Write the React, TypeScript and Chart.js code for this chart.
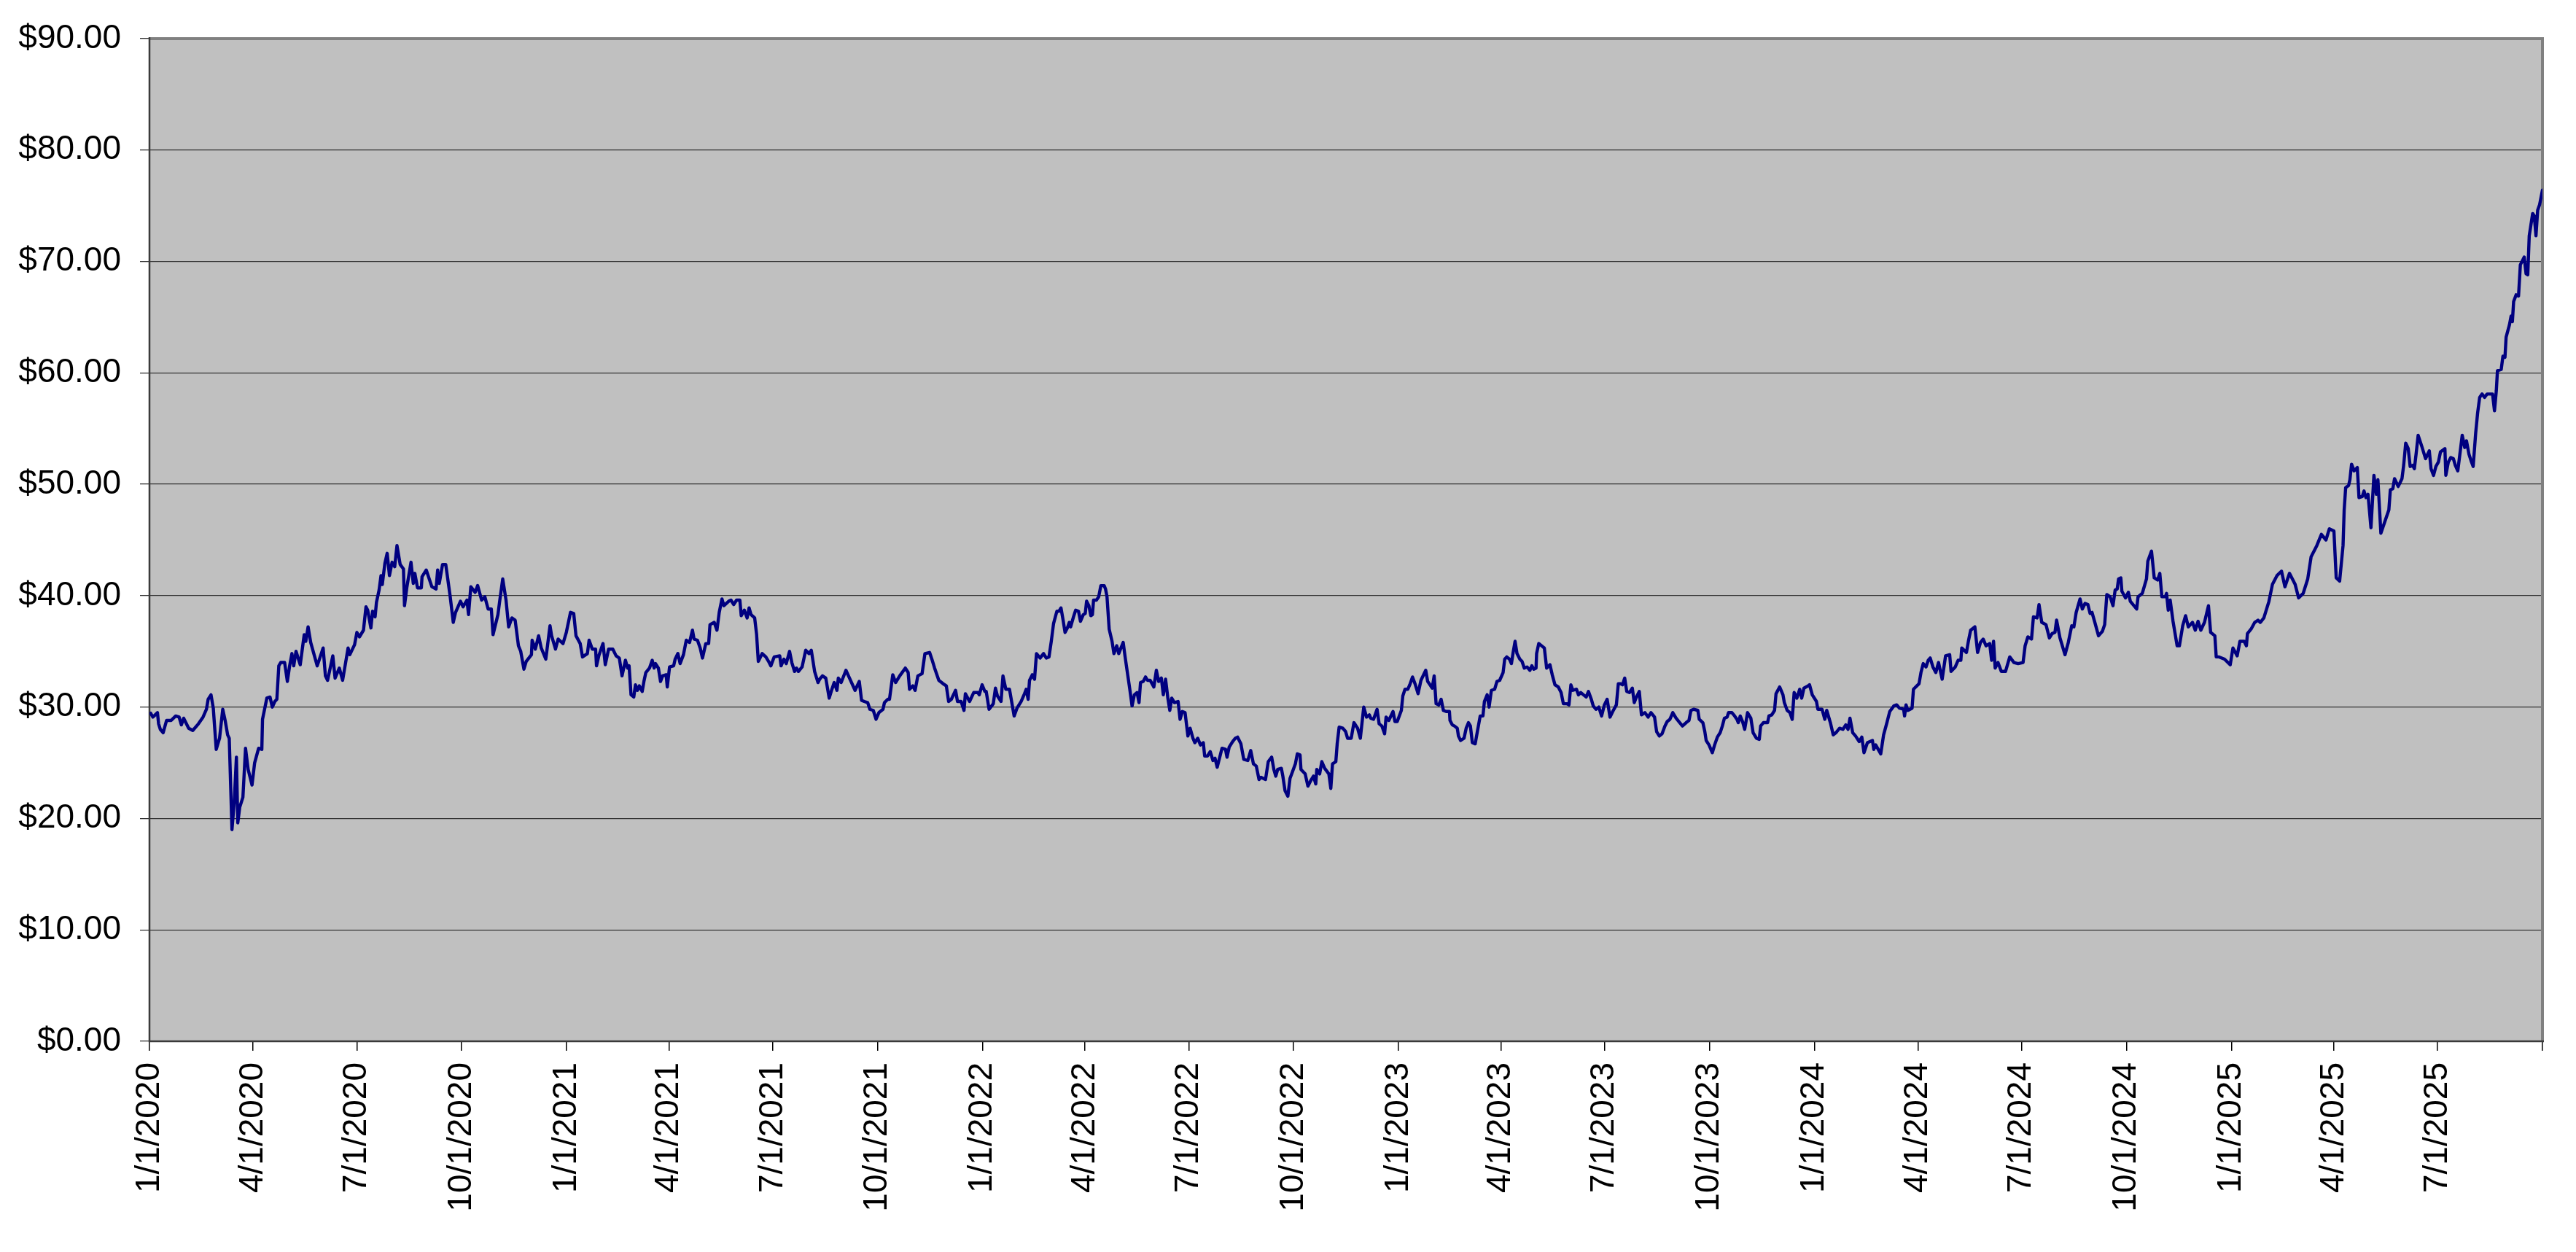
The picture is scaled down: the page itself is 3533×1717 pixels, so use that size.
import React, { useEffect, useRef } from 'react';
import { Chart, registerables } from 'chart.js';

Chart.register(...registerables);

// ---- Axis tick labels ----
const quarterLabels: string[] = [
  '1/1/2020', '4/1/2020', '7/1/2020', '10/1/2020',
  '1/1/2021', '4/1/2021', '7/1/2021', '10/1/2021',
  '1/1/2022', '4/1/2022', '7/1/2022', '10/1/2022',
  '1/1/2023', '4/1/2023', '7/1/2023', '10/1/2023',
  '1/1/2024', '4/1/2024', '7/1/2024', '10/1/2024',
  '1/1/2025', '4/1/2025', '7/1/2025',
];
const axisStartDate = '1/1/2020';
const axisEndDate = '10/1/2025';
const yTickValues: number[] = [0, 10, 20, 30, 40, 50, 60, 70, 80, 90];

// ---- Series: days since 1/1/2020 and closing price ($) ----
const tradingDay: number[] = [
  // 2020 - early 2021
  1, 3, 7, 8, 9.5, 12, 15, 19, 23, 26,
  28, 30, 34.4, 38, 43, 47, 50, 51.5, 54, 56,
  58.6, 61.5, 64.3, 66.6, 68.6, 70, 72.4, 74.4, 76.3, 77.5,
  79.2, 82, 84.3, 86.6, 90, 92.3, 95.8, 98.6, 99.2, 103,
  105.8, 107.8, 110, 111.8, 113.5, 115.2, 118.6, 121, 123, 125,
  126.6, 128.6, 132.3, 135.8, 137.2, 139.2, 141.5, 147.2, 152.4, 154.4,
  156.3, 160.9, 162.9, 166.6, 169.5, 174.3, 175.8, 180, 182, 184.3,
  187.8, 190, 191.5, 194.3, 195.8, 198, 199.2, 201.5, 203.2, 204.3,
  206.6, 208.6, 210.6, 212.9, 215.2, 217.2, 220, 222.9, 223.8, 225.8,
  229.5, 231.5, 232.9, 235.2, 238.6, 239.2, 242.9, 247.8, 251.5, 252.9,
  254.3, 257.2, 260, 263.8, 266.6, 268.6, 272.9, 275.2, 278.6, 280,
  282, 285.8, 288, 291.5, 294.3, 297.2, 300, 301.5, 305.8, 307.2,
  310, 312.9, 315.2, 318, 320.9, 323.8, 325.8, 328.6, 330.6, 335.2,
  335.8, 338.6, 341.5, 343.8, 347.8, 351.5, 352.9, 356.3, 358.6, 362.9,
  365.8, 369.5, 372.3, 374.3, 378, 380, 384.3, 385.8, 388.6, 391.5,
  392.3, 394.3, 398, 400, 402.9, 406.6, 409.5,
  // 2021
  412.3, 414.7, 417.7, 419.6, 420.9, 422.6, 425, 426.5, 428.2, 429.9,
  432.4, 433.9, 435.6, 438.8, 441.2, 442.9, 444.1, 446.6, 448.5, 450.3,
  453.4, 454.4, 456.4, 460, 461.3, 463.7, 465.7, 468.6, 471.1, 474,
  476.5, 477.9, 480.9, 483.3, 485.3, 488.2, 490.7, 491.9, 495.6, 498,
  500, 502.4, 504.1, 508.3, 510.3, 512.7, 515.2, 518.1, 519.3, 522,
  524.5, 526.2, 527.9, 531.1, 532.8, 534.3, 537.7, 540.9, 543.3, 545.3,
  548.2, 553.1, 554.3, 556.8, 558.8, 561.7, 563.7, 566.1, 567.8, 569.5,
  572.7, 575.9, 578.8, 580.8, 583.7, 586.7, 588.1, 590.6, 593.5, 596.5,
  598.9, 600.9, 603.3, 604.5, 607, 611.2, 614.3, 619.2, 622.9, 624.9,
  627.3, 630.3, 632.2, 635.2, 637.6, 640.1, 643.7, 645, 647.9, 649.4,
  652.3, 654.8, 658.4, 663.3, 665.8, 667, 669.9, 671.9, 674.3, 678,
  680.5, 684.6, 686.6, 689, 692.7, 696.4, 699.3, 701.3, 703.7, 707.4,
  709.1, 712.3, 714.8, 716, 719.7, 723.3, 727, 728.2, 730.7, 733.1,
  734.3, 736.8, 740.5, 742.4, 744.1, 747.3, 749, 751.5, 754.7, 758.8,
  761.3, 764.9, 767.9, 769.4, 771.1, 772.3, 774.8, 776.7, 778.4, 781.6,
  784.6, 787, 789.4, 791.4, 793.4, 796.3,
  // 2022
  798.1, 799.9, 801.6, 803.5, 805.5, 807.2, 808.4, 810.9, 812.8, 815.3,
  817, 819.5, 821.2, 822.4, 824.4, 826.1, 827.5, 828.5, 831, 833,
  834.9, 837.8, 839, 840.3, 842.2, 844.7, 846.4, 848.8, 850.6, 852.5,
  854.5, 856.2, 858.6, 860.3, 862.3, 864.3, 866.7, 868.4, 869.7, 872.1,
  874.1, 875.8, 878.2, 881.4, 883.6, 885.6, 888, 889.7, 891.7, 893.7,
  895.4, 897.1, 899.5, 902.7, 904.4, 906.4, 908.8, 911.3, 913.2, 915.7,
  917.4, 919.9, 922.3, 924.8, 926, 928.4, 930.9, 933.3, 935.1, 937,
  941.2, 944.3, 945.6, 947.5, 950.5, 952.9, 954.9, 957.8, 960.3, 963.9,
  966.4, 968.8, 971.3, 973.7, 975.4, 977.4, 979.4, 981.8, 984.8, 986.7,
  988.4, 990.1, 993.3, 994.6, 996.5, 999, 1000.9, 1003.1, 1005.6, 1007.3,
  1009.7, 1010.5, 1014.2, 1016.6, 1019.1, 1021.5, 1023.5, 1024.4, 1026.9, 1028.8,
  1031.3, 1035, 1036.7, 1038.2, 1041.1, 1042.3, 1044, 1047.2, 1049.7, 1051.4,
  1054.6, 1057, 1060.2, 1062.6, 1065.6, 1068, 1070.5, 1071.7, 1074.2, 1077.3,
  1079.1, 1081.5, 1083.9, 1085.2, 1087.6, 1091.3, 1093, 1095, 1098.6, 1099.9,
  1101.8, 1104.3, 1106, 1108.4, 1110.9, 1113.3, 1115.8,
  // 2023
  1120, 1121.7, 1123.7, 1125.7, 1127.4, 1129.1, 1131.5, 1133.5, 1135.5, 1137.9,
  1140.8, 1141.3, 1143.3, 1145.2, 1147.7, 1148.7, 1150.6, 1153.6, 1155.5, 1157.5,
  1159.2, 1160.9, 1163.4, 1165.3, 1167.8, 1170.2, 1171.5, 1173.9, 1175.6, 1177.6,
  1180.5, 1182.5, 1184.9, 1187.9, 1189.3, 1191.1, 1193.5, 1195.2, 1196.7, 1198.4,
  1200.1, 1202.6, 1204.5, 1206.5, 1208.9, 1211.4, 1213.1, 1214.8, 1216.8, 1217.3,
  1219.2, 1221.7, 1224.1, 1226.1, 1229, 1231, 1233.4, 1236.4, 1238.8, 1240.8,
  1243.7, 1245.7, 1247.4, 1249.1, 1252.3, 1254, 1256, 1258.4, 1260.8, 1262.8,
  1265.3, 1267, 1269.4, 1271.9, 1274.3, 1276.8, 1279.2, 1281.7, 1284.1, 1287.3,
  1289, 1290.7, 1292.7, 1294.6, 1296.4, 1298.8, 1301.3, 1303, 1304.9, 1307.4,
  1309.3, 1312.3, 1315.2, 1317.7, 1320.8, 1322.6, 1325, 1327.4, 1329.9, 1331.9,
  1334.3, 1336.8, 1339.7, 1342.9, 1345.3, 1348.5, 1351, 1352.7, 1355.1, 1358.8,
  1360, 1363.2, 1364.9, 1366.1, 1368.6, 1371.5, 1373.5, 1375.9, 1378.4, 1380.3,
  1382.1, 1384.5, 1385.7, 1388.7, 1391.1, 1393.1, 1394.3, 1396, 1398, 1399.9,
  1402.4, 1405.3, 1407.3, 1410.2, 1412.7, 1413.9, 1416.3, 1420, 1421.2, 1423.7,
  1426.1, 1427.4, 1430.6, 1433.5, 1434.7, 1437.2, 1439.6, 1441.6, 1443.3, 1445.7,
  1448.2, 1449.9, 1451.9, 1455.5, 1456.8, 1459.2, 1462.9, 1464.1, 1467.8, 1470.2,
  1471.9, 1475.1, 1477.6, 1480, 1483.2, 1486.1, 1488.6, 1490.6, 1492.3, 1494.7,
  1497.2, 1500.4,
  // 2024
  1502.7, 1504.6, 1507.6, 1512, 1513.2, 1514.9, 1519.3, 1521.8, 1524.7, 1527.2,
  1530.8, 1533.3, 1535.7, 1539.4, 1540.2, 1541.5, 1543.1, 1546.8, 1548, 1552.9,
  1554.6, 1556.6, 1559, 1561, 1562.7, 1565.1, 1567.6, 1570, 1573.2, 1576.2,
  1579.8, 1581, 1584.7, 1587.2, 1589.6, 1590.4, 1594.5, 1596.2, 1598.2, 1601.9,
  1604.3, 1606.8, 1609.2, 1611.7, 1614.9, 1616.6, 1618.3, 1619.7, 1622.2, 1625.1,
  1628.8, 1632.5, 1636.2, 1639.8, 1644.2, 1646, 1648.4, 1651.6, 1653.3, 1656.5,
  1658.2, 1660.6, 1664.3, 1667.3, 1669.7, 1672.2, 1673.6, 1676.6, 1681, 1683.9,
  1686.9, 1688.8, 1690.8, 1694.2, 1696.2, 1698.6, 1701.1, 1703, 1704.7, 1707.2,
  1710.4, 1713.8, 1715.8, 1717.7, 1720.6, 1723.1, 1725, 1726.8, 1728, 1730,
  1730.9, 1734.1, 1736.6, 1738.3, 1741.5, 1743.9, 1745.1, 1748.8, 1752.5, 1753.7,
  1756.9, 1759.3, 1762.3, 1764.2, 1766, 1769.1, 1770.1, 1771.6, 1773.3, 1775.8,
  1779.4, 1781.4, 1784.3, 1786.8, 1789.2, 1792.9, 1795.3, 1797.8, 1800.2, 1803.4,
  1806.9, 1808.8, 1812.5, 1813.7, 1816.2, 1821, 1826, 1828.4, 1832.1, 1834.5,
  1838.2, 1840.2, 1841.1, 1844.3, 1847.5, 1850.4, 1852.4,
  // 2025
  1855.5, 1860, 1863, 1867, 1871, 1874, 1878, 1883, 1886, 1890,
  1894, 1897, 1902, 1906, 1910, 1913, 1917, 1919, 1922, 1925,
  1926, 1927.3, 1929.9, 1931, 1932.5, 1934.7, 1937.5, 1939, 1941.9, 1943.4,
  1945.1, 1946.9, 1949.5, 1952.1, 1954.3, 1955.6, 1958.2, 1965.2, 1966.5, 1968.7,
  1970.2, 1973.4, 1976.7, 1978.2, 1980, 1982.2, 1983.9, 1986.1, 1987.6, 1989.1,
  1990.9, 1994.1, 1997.4, 2000.7, 2002.2, 2004.4, 2006.5, 2008.7, 2010.5, 2014.4,
  2015.2, 2017.4, 2019.6, 2021.8, 2023.5, 2025.7, 2027.4, 2029.6, 2031.8, 2033.3,
  2035.5, 2037.7, 2039.2, 2041.4, 2043.1, 2044.9, 2047, 2049.2, 2051.4, 2054,
  2056.2, 2057.9, 2059.5, 2060.5, 2063.8, 2065.3, 2067.1, 2068.1, 2071, 2072.5,
  2073.6, 2074.7, 2076.9, 2079, 2080.6, 2084, 2085.6, 2087.1, 2088.4, 2091.4,
  2092.8, 2094.3, 2095.8, 2097.5, 2100,
];

const closePrice: number[] = [
  // 2020 - early 2021
  29.45, 29.1, 29.5, 28.5, 28.0, 27.7, 28.8, 28.8, 29.2, 29.1,
  28.4, 29.0, 28.1, 27.9, 28.5, 29.1, 29.8, 30.7, 31.1, 29.9,
  26.2, 27.2, 29.8, 28.7, 27.5, 27.2, 19.0, 21.5, 25.5, 19.6,
  21.0, 21.9, 26.3, 24.4, 23.0, 25.0, 26.3, 26.2, 28.9, 30.8,
  30.9, 30.0, 30.5, 30.7, 33.7, 34.0, 34.0, 32.3, 33.7, 34.8,
  33.7, 35.0, 33.8, 36.5, 35.9, 37.2, 35.8, 33.7, 35.3, 32.8,
  32.4, 34.6, 32.6, 33.5, 32.4, 35.3, 34.7, 35.6, 36.7, 36.3,
  36.9, 39.0, 38.7, 37.1, 38.6, 38.1, 39.4, 40.5, 41.8, 41.0,
  42.9, 43.8, 41.8, 43.0, 42.6, 44.5, 42.8, 42.4, 39.1, 40.7,
  43.0, 41.1, 42.0, 40.7, 40.7, 41.7, 42.3, 40.8, 40.6, 42.3,
  41.1, 42.8, 42.8, 40.0, 37.6, 38.5, 39.5, 39.0, 39.6, 38.3,
  40.8, 40.3, 40.9, 39.6, 39.9, 38.8, 38.8, 36.5, 38.3, 39.4,
  41.5, 39.6, 37.2, 38.0, 37.8, 35.5, 35.0, 33.4, 34.1, 34.7,
  36.0, 35.2, 36.4, 35.3, 34.3, 37.3, 36.4, 35.2, 36.1, 35.7,
  36.7, 38.5, 38.4, 36.4, 35.7, 34.5, 34.8, 36.0, 35.2, 35.2,
  33.7, 34.6, 35.7, 33.8, 35.2, 35.2, 34.6,
  // 2021
  34.4, 32.8, 34.2, 33.5, 33.7, 31.1, 30.9, 32.0, 31.5, 31.9,
  31.4, 32.3, 33.1, 33.5, 34.2, 33.5, 33.9, 33.5, 32.3, 32.8,
  32.9, 31.8, 33.6, 33.7, 34.3, 34.8, 33.9, 34.7, 36.0, 35.8,
  36.9, 36.1, 36.0, 35.3, 34.4, 35.7, 35.7, 37.4, 37.6, 36.9,
  38.5, 39.7, 39.1, 39.5, 39.6, 39.2, 39.6, 39.6, 38.2, 38.7,
  38.0, 38.9, 38.3, 38.0, 36.5, 34.1, 34.8, 34.5, 34.1, 33.7,
  34.5, 34.6, 33.7, 34.3, 33.9, 35.0, 34.0, 33.2, 33.5, 33.2,
  33.6, 35.1, 34.8, 35.1, 33.2, 32.2, 32.5, 32.8, 32.6, 30.8,
  31.6, 32.2, 31.5, 32.6, 32.2, 33.3, 32.6, 31.5, 32.3, 30.6,
  30.5, 30.4, 29.8, 29.7, 28.9, 29.5, 29.8, 30.4, 30.7, 30.7,
  32.9, 32.2, 32.8, 33.5, 33.1, 31.6, 31.9, 31.5, 32.8, 33.0,
  34.8, 34.9, 34.3, 33.5, 32.4, 32.1, 31.9, 30.5, 30.7, 31.5,
  30.5, 30.5, 29.7, 31.2, 30.5, 31.3, 31.3, 31.1, 32.0, 31.4,
  31.4, 29.8, 30.3, 31.7, 31.0, 30.5, 32.8, 31.6, 31.6, 29.2,
  29.9, 30.5, 31.2, 31.6, 30.7, 32.4, 32.9, 32.5, 34.8, 34.4,
  34.8, 34.4, 34.5, 35.9, 37.5, 38.6,
  // 2022
  38.6, 38.9, 37.9, 36.7, 37.1, 37.6, 37.2, 38.1, 38.7, 38.6,
  37.7, 38.3, 38.4, 39.5, 39.1, 38.2, 38.3, 39.6, 39.6, 39.9,
  40.9, 40.9, 40.6, 39.9, 37.0, 35.9, 34.8, 35.5, 34.8, 35.3,
  35.8, 34.5, 32.8, 31.6, 30.1, 31.1, 31.3, 30.4, 32.2, 32.3,
  32.7, 32.4, 32.4, 31.8, 33.3, 32.3, 32.6, 31.1, 32.5, 30.8,
  29.7, 30.8, 30.4, 30.5, 28.9, 29.6, 29.5, 27.4, 28.1, 27.2,
  26.8, 27.2, 26.6, 26.8, 25.6, 25.6, 26.0, 25.2, 25.4, 24.6,
  26.3, 26.2, 25.5, 26.4, 26.9, 27.2, 27.3, 26.7, 25.3, 25.2,
  26.1, 24.9, 24.7, 23.5, 23.7, 23.6, 23.5, 25.1, 25.5, 24.4,
  23.8, 24.4, 24.5, 23.8, 22.5, 22.0, 23.6, 24.2, 24.9, 25.8,
  25.7, 24.4, 24.0, 22.9, 23.4, 23.8, 23.1, 24.4, 24.0, 25.1,
  24.5, 24.0, 22.7, 24.9, 25.1, 26.7, 28.2, 28.1, 27.8, 27.2,
  27.2, 28.6, 28.1, 27.2, 30.0, 29.1, 29.3, 29.0, 28.9, 29.8,
  28.5, 28.3, 27.6, 29.1, 28.8, 29.6, 28.7, 28.7, 29.7, 31.0,
  31.6, 31.6, 32.0, 32.7, 32.0, 31.2, 32.4,
  // 2023
  33.3, 32.3, 32.0, 31.7, 32.8, 30.3, 30.2, 30.7, 29.7, 29.6,
  29.6, 28.8, 28.4, 28.3, 28.1, 27.4, 27.0, 27.2, 28.1, 28.6,
  28.3, 26.8, 26.7, 27.8, 29.2, 29.2, 30.5, 31.1, 30.0, 31.5,
  31.6, 32.3, 32.4, 33.1, 34.3, 34.5, 34.3, 33.9, 34.9, 35.9,
  34.8, 34.3, 34.1, 33.5, 33.6, 33.3, 33.7, 33.4, 33.5, 34.8,
  35.7, 35.5, 35.3, 33.5, 33.8, 32.9, 32.0, 31.8, 31.3, 30.3,
  30.3, 30.2, 32.0, 31.5, 31.6, 31.1, 31.3, 31.1, 30.9, 31.4,
  30.7, 30.1, 29.8, 30.0, 29.2, 30.2, 30.7, 29.1, 29.6, 30.2,
  32.1, 32.1, 32.0, 32.6, 31.4, 31.3, 31.7, 30.4, 30.9, 31.4,
  29.3, 29.5, 29.1, 29.5, 29.1, 27.8, 27.4, 27.6, 28.3, 28.7,
  28.9, 29.5, 29.0, 28.6, 28.3, 28.6, 28.8, 29.7, 29.8, 29.7,
  28.9, 28.6, 27.8, 27.0, 26.6, 25.9, 26.6, 27.3, 27.7, 28.3,
  29.0, 29.1, 29.5, 29.5, 29.2, 28.9, 28.6, 29.2, 28.7, 28.0,
  29.5, 29.0, 27.7, 27.2, 27.1, 28.3, 28.6, 28.6, 29.2, 29.3,
  29.7, 31.2, 31.8, 31.1, 30.4, 29.7, 29.5, 28.9, 31.3, 30.8,
  31.6, 30.8, 31.7, 31.9, 32.0, 31.1, 30.5, 29.8, 29.8, 28.9,
  29.7, 28.6, 27.5, 27.7, 28.1, 28.0, 28.4, 28.0, 29.0, 27.7,
  27.4, 26.9,
  // 2024
  27.3, 25.9, 26.8, 27.0, 26.2, 26.6, 25.8, 27.5, 28.6, 29.6,
  30.1, 30.2, 29.9, 29.8, 29.2, 30.2, 29.7, 29.9, 31.6, 32.1,
  33.1, 33.9, 33.6, 34.2, 34.4, 33.6, 33.1, 34.0, 32.5, 34.6,
  34.7, 33.2, 33.6, 34.2, 34.2, 35.3, 34.9, 35.9, 36.9, 37.2,
  34.9, 35.8, 36.1, 35.5, 35.7, 34.2, 35.9, 33.5, 34.0, 33.2,
  33.2, 34.5, 34.0, 33.9, 34.0, 35.5, 36.3, 36.1, 38.1, 38.0,
  39.2, 37.6, 37.4, 36.2, 36.6, 36.7, 37.8, 36.2, 34.7, 35.8,
  37.3, 37.2, 38.5, 39.7, 38.8, 39.3, 39.2, 38.4, 38.5, 37.6,
  36.4, 36.8, 37.4, 40.1, 39.9, 39.1, 40.5, 40.6, 41.5, 41.6,
  40.4, 39.8, 40.3, 39.5, 39.1, 38.8, 39.9, 40.2, 41.5, 43.1,
  44.0, 41.6, 41.4, 42.0, 39.9, 39.9, 40.2, 38.7, 39.6, 37.7,
  35.5, 35.5, 37.3, 38.2, 37.2, 37.6, 36.9, 37.7, 36.9, 37.6,
  39.1, 36.7, 36.4, 34.5, 34.5, 34.3, 33.8, 35.3, 34.6, 35.9,
  35.9, 35.5, 36.6, 37.0, 37.6, 37.8, 37.6,
  // 2025
  38.0, 39.5, 41.0, 41.8, 42.2, 40.8, 42.0, 41.0, 39.8, 40.2,
  41.5, 43.5, 44.5, 45.5, 45.0, 46.0, 45.8, 41.6, 41.3, 44.5,
  47.7, 49.7, 49.9, 50.4, 51.8, 51.2, 51.5, 48.8, 48.9, 49.4,
  48.8, 49.1, 46.1, 50.8, 49.1, 50.4, 45.6, 47.7, 49.5, 49.6,
  50.5, 49.8, 50.5, 51.7, 53.7, 53.2, 51.6, 51.7, 51.4, 52.7,
  54.4, 53.4, 52.3, 53.0, 51.4, 50.8, 51.6, 52.0, 52.9, 53.2,
  50.8, 52.0, 52.4, 52.3, 51.7, 51.2, 52.6, 54.4, 53.3, 53.9,
  52.7, 52.0, 51.6, 54.6, 56.4, 57.8, 58.1, 57.8, 58.1, 58.1,
  58.1, 56.6, 58.4, 60.2, 60.3, 61.5, 61.4, 63.2, 64.3, 65.1,
  64.6, 66.4, 67.0, 66.9, 69.7, 70.4, 68.9, 68.8, 72.3, 74.3,
  74.1, 72.3, 74.6, 75.1, 76.4,
];

// ---- Layout constants ----
const W = 3533;
const H = 1717;
const PLOT_LEFT = 205;
const PLOT_RIGHT = 3487;
const PLOT_TOP = 53;
const PLOT_BOTTOM = 1428;
const FONT = "'Liberation Sans', Arial, Helvetica, sans-serif";

function dayOffset(label: string): number {
  const [m, d, y] = label.split('/').map(Number);
  const [m0, d0, y0] = axisStartDate.split('/').map(Number);
  return Math.round((Date.UTC(y, m - 1, d) - Date.UTC(y0, m0 - 1, d0)) / 86400000);
}

const plotAreaPlugin = {
  id: 'plotArea',
  beforeDraw(chart: any) {
    const { ctx, chartArea: a } = chart;
    ctx.save();
    ctx.fillStyle = '#C0C0C0';
    ctx.fillRect(a.left, a.top, a.right - a.left, a.bottom - a.top);
    ctx.restore();
  },
  beforeDatasetsDraw(chart: any) {
    const { ctx, chartArea: a } = chart;
    ctx.save();
    ctx.strokeStyle = '#808080';
    ctx.lineWidth = 4;
    ctx.beginPath();
    ctx.moveTo(a.left, a.top);
    ctx.lineTo(a.right, a.top);
    ctx.lineTo(a.right, a.bottom);
    ctx.stroke();
    ctx.strokeStyle = '#3a3a3a';
    ctx.lineWidth = 2.5;
    ctx.beginPath();
    ctx.moveTo(a.left, a.top - 2);
    ctx.lineTo(a.left, a.bottom);
    ctx.lineTo(a.right + 2, a.bottom);
    ctx.stroke();
    ctx.restore();
  },
};

export default function App() {
  const canvasRef = useRef<HTMLCanvasElement | null>(null);

  useEffect(() => {
    const canvas = canvasRef.current;
    if (!canvas) return;
    const n = Math.min(tradingDay.length, closePrice.length);
    const points = [];
    for (let i = 0; i < n; i++) points.push({ x: tradingDay[i], y: closePrice[i] });

    const tickDays = [...quarterLabels.map(dayOffset), dayOffset(axisEndDate)];
    const tickText = [...quarterLabels, ''];

    const chart = new Chart(canvas, {
      type: 'line',
      data: {
        datasets: [
          {
            data: points,
            borderColor: '#000080',
            borderWidth: 4.4,
            pointRadius: 0,
            tension: 0,
            fill: false,
            borderJoinStyle: 'round',
            borderCapStyle: 'round',
          },
        ],
      },
      options: {
        animation: false,
        responsive: false,
        devicePixelRatio: 1,
        events: [],
        layout: { padding: { top: PLOT_TOP, right: W - PLOT_RIGHT, left: 0, bottom: 0 } },
        plugins: { legend: { display: false }, tooltip: { enabled: false }, title: { display: false } },
        scales: {
          x: {
            type: 'linear',
            min: 0,
            max: tickDays[tickDays.length - 1],
            afterBuildTicks: (s: any) => {
              s.ticks = tickDays.map((v) => ({ value: v }));
            },
            afterFit: (s: any) => {
              s.height = H - PLOT_BOTTOM;
              s.paddingLeft = 0;
              s.paddingRight = 0;
            },
            grid: { drawOnChartArea: false, drawTicks: true, tickLength: 13, color: '#000', lineWidth: 1.5 },
            border: { display: false },
            ticks: {
              autoSkip: false,
              minRotation: 90,
              maxRotation: 90,
              padding: 16,
              color: '#000',
              font: { family: FONT, size: 46 },
              callback: (_v: any, i: number) => tickText[i],
            },
          },
          y: {
            type: 'linear',
            min: 0,
            max: 90,
            afterBuildTicks: (s: any) => {
              s.ticks = yTickValues.map((v) => ({ value: v }));
            },
            afterFit: (s: any) => {
              s.width = PLOT_LEFT;
              s.paddingTop = 0;
              s.paddingBottom = 0;
            },
            grid: { color: '#333333', lineWidth: 1.3, tickLength: 13 },
            border: { display: false },
            ticks: {
              padding: 26,
              color: '#000',
              font: { family: FONT, size: 46 },
              callback: (v: any) => '$' + Number(v).toFixed(2),
            },
          },
        },
      },
      plugins: [plotAreaPlugin],
    } as any);

    return () => chart.destroy();
  }, []);

  return (
    <div style={{ position: 'fixed', left: 0, top: 0, width: W, height: H, background: '#ffffff' }}>
      <canvas ref={canvasRef} width={W} height={H} style={{ display: 'block', width: W, height: H }} />
    </div>
  );
}
